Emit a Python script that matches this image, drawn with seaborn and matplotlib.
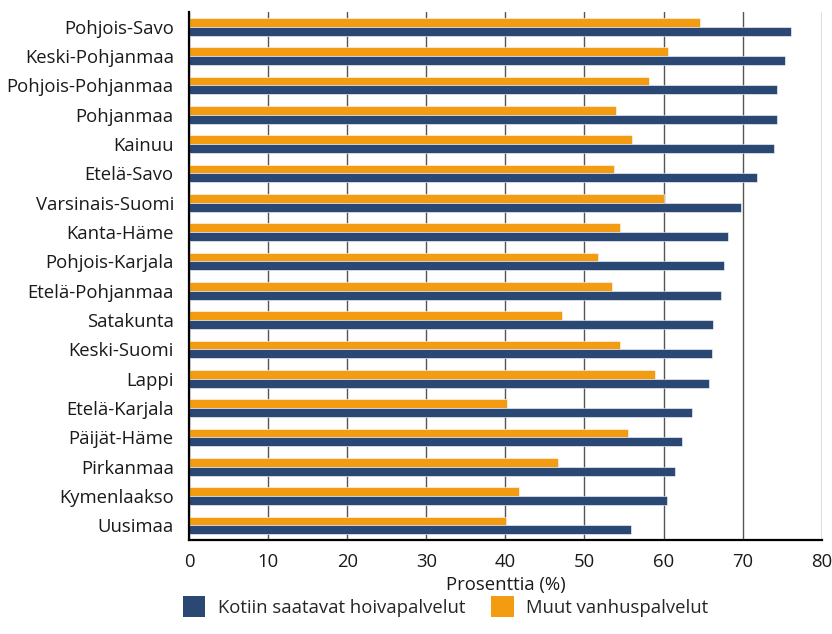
import matplotlib
matplotlib.use("Agg")
import matplotlib.pyplot as plt
import seaborn as sns
import pandas as pd
from matplotlib.patches import Patch

regions = [
    "Pohjois-Savo", "Keski-Pohjanmaa", "Pohjois-Pohjanmaa", "Pohjanmaa", "Kainuu",
    "Etelä-Savo", "Varsinais-Suomi", "Kanta-Häme", "Pohjois-Karjala",
    "Etelä-Pohjanmaa", "Satakunta", "Keski-Suomi", "Lappi", "Etelä-Karjala",
    "Päijät-Häme", "Pirkanmaa", "Kymenlaakso", "Uusimaa",
]
kotiin = [76.1, 75.3, 74.3, 74.3, 74.0, 71.8, 69.8, 68.2, 67.7,
          67.3, 66.3, 66.1, 65.7, 63.6, 62.3, 61.4, 60.4, 55.9]
muut = [64.6, 60.6, 58.1, 54.0, 56.0, 53.7, 60.0, 54.5, 51.7,
        53.5, 47.2, 54.5, 58.9, 40.2, 55.5, 46.7, 41.7, 40.1]

label_kotiin = "Kotiin saatavat hoivapalvelut"
label_muut = "Muut vanhuspalvelut"
xticks = [0, 10, 20, 30, 40, 50, 60, 70, 80]

blue = "#2b4874"
orange = "#f39c12"
fs = 13.3

df = pd.DataFrame({
    "alue": regions * 2,
    "arvo": muut + kotiin,
    "palvelu": [label_muut] * len(regions) + [label_kotiin] * len(regions),
})

sns.set_theme(style="white")
plt.rcParams["font.family"] = ["Open Sans", "DejaVu Sans"]

fig = plt.figure(figsize=(8.32, 6.34), dpi=100)
ax = fig.add_axes([0.2272, 0.148, 0.7605, 0.833])

sns.barplot(
    data=df, x="arvo", y="alue", hue="palvelu",
    hue_order=[label_muut, label_kotiin],
    palette=[orange, blue], order=regions,
    orient="h", width=0.6, dodge=True, errorbar=None,
    edgecolor="white", linewidth=0.4, saturation=1, legend=False, ax=ax,
)

ax.set_xlim(0, 80)
ax.set_ylim(17.5, -0.5)
ax.set_xticks(xticks)
ax.set_xticklabels([str(t) for t in xticks], fontsize=fs, color="#1a1a1a")
ax.set_axisbelow(True)
ax.grid(axis="x", color="#555555", linewidth=1.0)
ax.grid(axis="y", visible=False)
ax.tick_params(axis="x", which="major", direction="out", length=4, width=1,
               color="black", pad=5)
ax.tick_params(axis="y", length=0, pad=11, labelsize=fs, labelcolor="#1a1a1a")
ax.set_ylabel("")
ax.set_xlabel("Prosenttia (%)", fontsize=fs, color="#1a1a1a", labelpad=4)

for side in ["top", "right"]:
    ax.spines[side].set_visible(False)
for side in ["left", "bottom"]:
    ax.spines[side].set_color("black")
    ax.spines[side].set_linewidth(1.6)

handles = [Patch(facecolor=blue, edgecolor="none", label=label_kotiin),
           Patch(facecolor=orange, edgecolor="none", label=label_muut)]
fig.legend(handles=handles, loc="lower left", bbox_to_anchor=(0.2, 0.0),
           ncol=2, frameon=False, fontsize=fs, handlelength=1.2,
           handleheight=1.4, handletextpad=0.7, columnspacing=1.4)

fig.savefig("out.png", dpi=100)
